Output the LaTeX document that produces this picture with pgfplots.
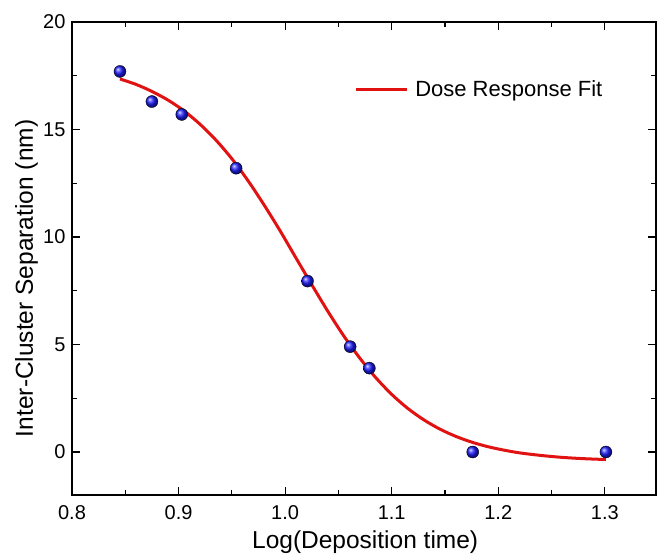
\documentclass[border=0pt]{standalone}
\usepackage{pgfplots}
\pgfplotsset{compat=1.18}
\usepackage{fontspec}
\setmainfont{Liberation Sans}
\definecolor{fitred}{RGB}{225,18,18}
\definecolor{ballblue}{RGB}{30,30,255}
\begin{document}
\begin{tikzpicture}
\begin{axis}[
  at={(0,0)}, anchor=south west,
  scale only axis,
  width=584bp, height=473bp,
  xmin=0.8, xmax=1.348, ymin=-2, ymax=20,
  xtick={0.8,0.9,1.0,1.1,1.2,1.3},
  xticklabels={0.8,0.9,1.0,1.1,1.2,1.3},
  ytick={0,5,10,15,20},
  minor x tick num=1, minor y tick num=1,
  xtick pos=both, ytick pos=both,
  xticklabel pos=bottom, yticklabel pos=left,
  tick align=inside,
  major tick length=8bp, minor tick length=5bp,
  every tick/.style={black, line width=1.2bp},
  axis line style={line width=1.3bp, black},
  /pgf/number format/assume math mode=true,
  ticklabel style={font=\fontsize{20bp}{24bp}\selectfont},
  xticklabel style={yshift=-7bp},
  yticklabel style={xshift=-3bp},
  xlabel={Log(Deposition time)},
  ylabel={Inter-Cluster Separation (nm)},
  label style={font=\fontsize{24.5bp}{29bp}\selectfont},
  xlabel style={at={(axis description cs:0.502,0)}, anchor=base, yshift=-53bp},
  ylabel style={at={(axis description cs:0,0.458)}, anchor=base, yshift=39bp},
  legend style={draw=none, fill=none, at={(axis description cs:0.483,0.858)}, anchor=west,
    inner sep=0pt, font=\fontsize{22bp}{26bp}\selectfont, nodes={inner sep=0pt}},
  legend image code/.code={\draw[#1] (0bp,0bp) -- (51bp,0bp); \path (58bp,0bp);},
]
\addplot[fitred, line width=3bp, smooth] coordinates {
(0.845,17.35) (0.86,17.10) (0.875,16.77) (0.89,16.37) (0.905,15.87)
(0.92,15.25) (0.935,14.51) (0.95,13.64) (0.965,12.63) (0.98,11.51)
(0.995,10.31) (1.01,9.04) (1.025,7.78) (1.04,6.55) (1.055,5.40)
(1.07,4.37) (1.085,3.46) (1.10,2.68) (1.115,2.03) (1.13,1.50)
(1.145,1.07) (1.16,0.73) (1.175,0.46) (1.19,0.25) (1.205,0.09)
(1.22,-0.04) (1.24,-0.16) (1.26,-0.25) (1.28,-0.31) (1.301,-0.35)
};
\addlegendentry{Dose Response Fit}
\addplot[only marks, mark=ball, mark size=6bp, ball color=ballblue, forget plot] coordinates {
(0.845,17.7) (0.875,16.3) (0.903,15.7) (0.954,13.2) (1.021,7.95)
(1.061,4.9) (1.079,3.9) (1.176,0.0) (1.301,0.0)
};
\end{axis}
\pgfresetboundingbox
\path (-72bp,-60bp) rectangle (585bp,495bp);
\end{tikzpicture}
\end{document}
